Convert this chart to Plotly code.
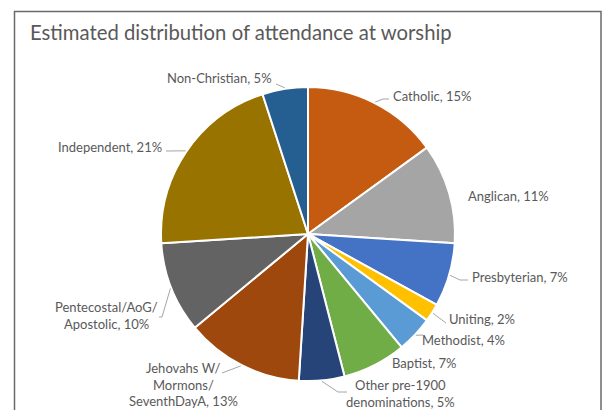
import math
import plotly.graph_objects as go

W, H = 603, 410

# Attendance share by group, clockwise from 12 o'clock
groups = [
    "Catholic", "Anglican", "Presbyterian", "Uniting", "Methodist", "Baptist",
    "Other pre-1900 denominations", "Jehovahs W/Mormons/SeventhDayA",
    "Pentecostal/AoG/Apostolic", "Independent", "Non-Christian",
]
shares = [15, 11, 7, 2, 4, 7, 5, 13, 10, 21, 5]
colors = [
    "#C55A11", "#A5A5A5", "#4472C4", "#FFC000", "#5B9BD5", "#70AD47",
    "#264478", "#9E480E", "#636363", "#997300", "#255E91",
]
label_lines = [
    ["Catholic, 15%"],
    ["Anglican, 11%"],
    ["Presbyterian, 7%"],
    ["Uniting, 2%"],
    ["Methodist, 4%"],
    ["Baptist, 7%"],
    ["Other pre-1900", "denominations, 5%"],
    ["Jehovahs W/", "Mormons/", "SeventhDayA, 13%"],
    ["Pentecostal/AoG/", "Apostolic, 10%"],
    ["Independent, 21%"],
    ["Non-Christian, 5%"],
]

# pie geometry (pixels)
CX, CY, R = 308, 234, 147

TEXT = "#595959"
LEADER = "#A6A6A6"
FONT = "Lato"
LABEL_SIZE = 13

# label placement: (x, y of first line, xanchor), and leader elbow points
placement = [
    (391, 96, "left", [(389, 99), (383, 99)]),
    (466, 196, "left", None),
    (470, 277, "left", [(468, 280), (460, 280)]),
    (447, 319, "left", [(446, 323)]),
    (420, 340, "left", [(423, 335)]),
    (390, 363, "left", None),
    (400, 385, "center", [(347, 392), (338, 392)]),
    (183, 368, "center", [(222, 373)]),
    (106, 307, "center", [(159, 317), (162, 317)]),
    (164, 147, "right", [(166, 151)]),
    (274, 78, "right", [(276, 84)]),
]


def edge_point(idx):
    total = sum(shares)
    start = sum(shares[:idx]) / total
    mid = (start + shares[idx] / total / 2) * 2 * math.pi
    r = R + 1
    return CX + r * math.sin(mid), CY - r * math.cos(mid)


fig = go.Figure()
fig.add_trace(go.Pie(
    labels=groups,
    values=shares,
    sort=False,
    direction="clockwise",
    rotation=0,
    textinfo="none",
    marker=dict(colors=colors, line=dict(color="white", width=2)),
    domain=dict(x=[(CX - R) / W, (CX + R) / W],
                y=[(H - CY - R) / H, (H - CY + R) / H]),
    showlegend=False,
))

annotations = [dict(
    x=28, y=32, xref="x", yref="y", xanchor="left", yanchor="middle",
    text="Estimated distribution of attendance at worship", showarrow=False,
    font=dict(family=FONT, size=20.3, color=TEXT),
)]
shapes = [dict(
    type="rect", xref="x", yref="y", x0=14.5, y0=11.5, x1=601, y1=430,
    line=dict(color="#6A6A6A", width=1.5), fillcolor="rgba(0,0,0,0)",
)]

line_gap = 16.5
for i, (lx, ly, anchor, elbow) in enumerate(placement):
    for k, txt in enumerate(label_lines[i]):
        annotations.append(dict(
            x=lx, y=ly + k * line_gap, xref="x", yref="y",
            xanchor=anchor, yanchor="middle", text=txt, showarrow=False,
            font=dict(family=FONT, size=LABEL_SIZE, color=TEXT),
        ))
    if elbow:
        pts = elbow + [edge_point(i)]
        path = "M " + " L ".join(f"{x:.1f},{y:.1f}" for x, y in pts)
        shapes.append(dict(type="path", xref="x", yref="y", path=path,
                           line=dict(color=LEADER, width=1)))

fig.update_layout(
    width=W, height=H,
    margin=dict(l=0, r=0, t=0, b=0),
    paper_bgcolor="white", plot_bgcolor="rgba(0,0,0,0)",
    xaxis=dict(range=[0, W], visible=False, fixedrange=True),
    yaxis=dict(range=[H, 0], visible=False, fixedrange=True),
    annotations=annotations,
    shapes=shapes,
)

fig.write_html("out.html")
